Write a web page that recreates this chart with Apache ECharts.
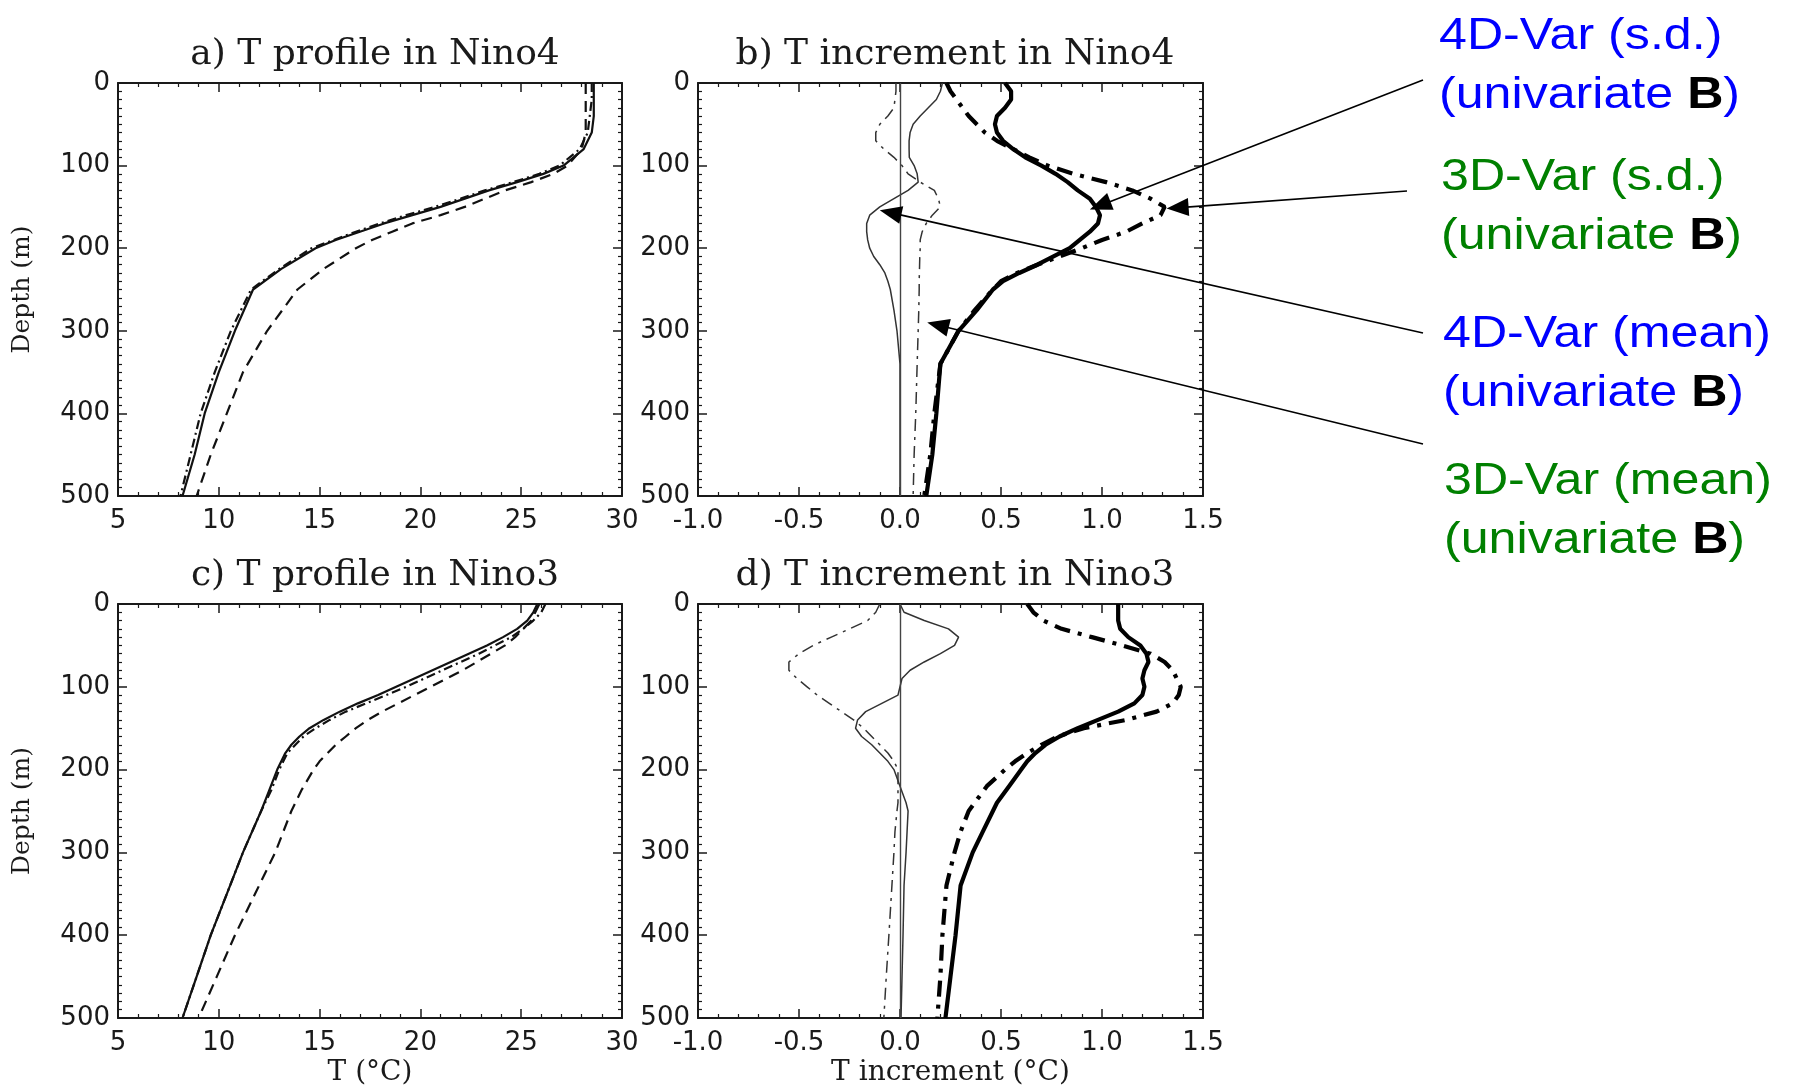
<!DOCTYPE html>
<html>
<head>
<meta charset="utf-8">
<script src="https://cdn.jsdelivr.net/npm/echarts@6/dist/echarts.min.js"></script>
<style>
html,body{margin:0;padding:0;background:#ffffff;}
#c{width:1793px;height:1088px;}
</style>
</head>
<body>
<div id="c"></div>
<script>
// ---------------- DATA ----------------
// Axis definitions / tick labels
const depthTicks = [0, 100, 200, 300, 400, 500];
const profileTicks = [5, 10, 15, 20, 25, 30];
const incrementTicks = [-1.0, -0.5, 0.0, 0.5, 1.0, 1.5];

// a) T profile in Nino4 (deg C)
const depthNino4Profile = [0,20,40,60,80,100,110,120,130,140,150,160,170,180,190,200,225,250,300,350,400,450,500];
const t4dNino4  = [28.6,28.6,28.6,28.5,28.1,27.1,26.1,24.8,23.4,22.2,21.0,19.6,18.2,17.0,15.8,14.8,13.1,11.7,10.8,10.0,9.3,8.8,8.2];
const t3dNino4  = [28.5,28.5,28.4,28.3,27.9,26.9,25.9,24.6,23.2,22.0,20.7,19.3,18.0,16.8,15.7,14.6,13.0,11.6,10.6,9.8,9.1,8.6,8.1];
const tCtlNino4 = [28.2,28.2,28.2,28.2,28.0,27.3,26.6,25.5,24.2,23.2,22.2,21.0,19.6,18.6,17.6,16.8,15.2,13.9,12.4,11.2,10.4,9.6,8.9];

// b) T increment in Nino4 (deg C)
const depthNino4Inc = [0,10,20,30,40,50,60,70,80,90,100,110,120,130,140,150,160,170,180,190,200,210,220,230,240,250,275,300,340,400,450,500];
const sd4dNino4   = [0.52,0.55,0.55,0.52,0.48,0.47,0.48,0.51,0.56,0.62,0.70,0.77,0.83,0.88,0.94,0.97,0.99,0.98,0.94,0.89,0.84,0.76,0.68,0.59,0.51,0.46,0.38,0.29,0.20,0.18,0.16,0.13];
const sd3dNino4   = [0.23,0.25,0.28,0.31,0.34,0.38,0.42,0.48,0.56,0.64,0.73,0.86,1.02,1.15,1.24,1.31,1.29,1.20,1.12,1.00,0.90,0.79,0.68,0.58,0.50,0.46,0.37,0.29,0.20,0.17,0.15,0.12];
const mean4dNino4 = [0.21,0.20,0.18,0.14,0.10,0.065,0.05,0.045,0.045,0.046,0.07,0.085,0.09,0.04,-0.03,-0.10,-0.15,-0.165,-0.165,-0.16,-0.15,-0.13,-0.10,-0.075,-0.06,-0.048,-0.03,-0.015,0.0,0.0,0.0,0.0];
const mean3dNino4 = [-0.02,-0.02,-0.025,-0.03,-0.06,-0.10,-0.12,-0.12,-0.08,-0.03,0.01,0.04,0.10,0.17,0.19,0.20,0.16,0.13,0.11,0.10,0.10,0.098,0.097,0.096,0.095,0.095,0.093,0.09,0.085,0.078,0.07,0.065];

// c) T profile in Nino3 (deg C)
const depthNino3Profile = [0,10,20,30,40,50,60,70,80,90,100,110,120,130,140,150,160,170,180,190,200,225,250,300,350,400,450,500];
const t4dNino3  = [25.8,25.6,25.3,24.8,24.1,23.3,22.4,21.5,20.6,19.7,18.8,17.9,16.9,16.0,15.2,14.5,14.0,13.6,13.3,13.1,12.9,12.5,12.1,11.2,10.4,9.6,8.9,8.2];
const t3dNino3  = [26.2,26.0,25.6,25.1,24.5,23.7,22.9,22.0,21.1,20.2,19.3,18.3,17.3,16.3,15.5,14.8,14.2,13.8,13.4,13.2,13.0,12.6,12.1,11.2,10.4,9.6,8.9,8.2];
const tCtlNino3 = [25.9,25.7,25.5,25.1,24.7,24.2,23.5,22.8,22.1,21.3,20.5,19.7,18.9,18.1,17.4,16.8,16.3,15.8,15.4,15.0,14.7,14.1,13.6,12.8,11.8,10.8,9.9,9.0];

// d) T increment in Nino3 (deg C)
const depthNino3Inc = [0,10,20,30,40,50,60,70,80,90,100,110,120,130,140,150,160,170,180,190,200,220,240,250,275,300,340,400,450,500];
const sd4dNino3   = [1.08,1.08,1.08,1.09,1.13,1.19,1.22,1.23,1.21,1.20,1.21,1.20,1.16,1.08,0.98,0.88,0.79,0.72,0.67,0.63,0.60,0.54,0.48,0.46,0.41,0.36,0.30,0.275,0.25,0.225];
const sd3dNino3   = [0.63,0.66,0.71,0.80,0.95,1.10,1.24,1.31,1.35,1.37,1.39,1.38,1.35,1.27,1.12,0.91,0.78,0.70,0.63,0.57,0.52,0.43,0.37,0.34,0.30,0.27,0.23,0.21,0.20,0.185];
const mean4dNino3 = [0.0,0.02,0.12,0.24,0.29,0.27,0.20,0.12,0.05,0.01,0.0,-0.01,-0.09,-0.17,-0.21,-0.22,-0.19,-0.14,-0.10,-0.06,-0.03,0.0,0.03,0.04,0.035,0.03,0.02,0.015,0.01,0.005];
const mean3dNino3 = [-0.10,-0.12,-0.16,-0.25,-0.34,-0.43,-0.50,-0.55,-0.55,-0.51,-0.46,-0.41,-0.35,-0.29,-0.23,-0.18,-0.14,-0.10,-0.06,-0.03,-0.01,-0.01,-0.01,-0.015,-0.025,-0.03,-0.04,-0.055,-0.068,-0.08];

// Annotation targets in panel b (increment, depth)
const arrowTargets = [[0.94, 153], [1.32, 152], [-0.10, 154], [0.135, 290]];
const annotationLabels = [
  {first: '4D-Var (s.d.)',  color: '#0000ff'},
  {first: '3D-Var (s.d.)',  color: '#008000'},
  {first: '4D-Var (mean)', color: '#0000ff'},
  {first: '3D-Var (mean)', color: '#008000'}
];

// ---------------- LAYOUT / STYLE ----------------
const INK = '#1a1a1a';
const grids = [
  {left: 118, top: 83,  width: 504, height: 413},
  {left: 698, top: 83,  width: 505, height: 413},
  {left: 118, top: 604, width: 504, height: 414},
  {left: 698, top: 604, width: 505, height: 414}
];
const tickFont = {fontFamily: 'DejaVu Sans', fontSize: 26, color: INK};
const serifYName = {fontFamily: 'DejaVu Serif', fontSize: 25, color: INK};
const serifXName = {fontFamily: 'DejaVu Serif', fontSize: 28, color: INK};

function axisCommon(gi) {
  return {
    type: 'value', gridIndex: gi,
    axisLine: {show: true, onZero: false, lineStyle: {color: INK, width: 2}},
    axisTick: {show: true, inside: true, length: 9, lineStyle: {color: INK, width: 1.5}},
    minorTick: {show: true, length: 4, lineStyle: {color: INK, width: 1.2}},
    splitLine: {show: false}, minorSplitLine: {show: false}
  };
}
function makeX(gi, ticks, fmt, name) {
  const min = ticks[0], max = ticks[ticks.length - 1], interval = ticks[1] - ticks[0];
  const base = axisCommon(gi);
  base.minorTick.splitNumber = 5;
  const bottom = Object.assign({}, base, {
    position: 'bottom', min, max, interval,
    axisLabel: Object.assign({show: true, margin: 12, formatter: fmt}, tickFont)
  });
  if (name) {
    bottom.name = name; bottom.nameLocation = 'middle'; bottom.nameGap = 41;
    bottom.nameTextStyle = serifXName;
  }
  const top = Object.assign({}, axisCommon(gi), {position: 'top', min, max, interval, axisLabel: {show: false}});
  top.minorTick.splitNumber = 5;
  return [bottom, top];
}
function makeY(gi, name) {
  const min = depthTicks[0], max = depthTicks[depthTicks.length - 1], interval = depthTicks[1] - depthTicks[0];
  const base = axisCommon(gi);
  base.minorTick.splitNumber = 10;
  const left = Object.assign({}, base, {
    position: 'left', inverse: true, min, max, interval,
    axisLabel: Object.assign({show: true, margin: 8}, tickFont)
  });
  if (name) {
    left.name = name; left.nameLocation = 'middle'; left.nameGap = 83;
    left.nameTextStyle = serifYName;
  }
  const right = Object.assign({}, axisCommon(gi), {position: 'right', inverse: true, min, max, interval, axisLabel: {show: false}});
  right.minorTick.splitNumber = 10;
  return [left, right];
}

const fmtInt = v => String(v);
const fmt1 = v => v.toFixed(1);

const xAxes = [].concat(
  makeX(0, profileTicks, fmtInt, null),
  makeX(1, incrementTicks, fmt1, null),
  makeX(2, profileTicks, fmtInt, 'T (°C)'),
  makeX(3, incrementTicks, fmt1, 'T increment (°C)')
);
const yAxes = [].concat(makeY(0, 'Depth (m)'), makeY(1, null), makeY(2, 'Depth (m)'), makeY(3, null));

const SOLID = {color: '#111', width: 2.2, type: 'solid'};
const DASHDOT = {color: '#111', width: 2.2, type: [9, 4, 2, 4]};
const DASHED = {color: '#111', width: 2.2, type: [11, 7]};
const THICK_SOLID = {color: '#000', width: 4.2, type: 'solid'};
const THICK_DASHDOT = {color: '#000', width: 4.2, type: [16, 8, 4, 8]};
const THIN_SOLID = {color: '#333', width: 1.5, type: 'solid'};
const THIN_DASHDOT = {color: '#333', width: 1.5, type: [12, 6, 3, 6]};

function line(gi, name, xs, ds, style, extra) {
  return Object.assign({
    type: 'line', name, xAxisIndex: 2 * gi, yAxisIndex: 2 * gi,
    data: xs.map((v, i) => [v, ds[i]]),
    showSymbol: false, symbol: 'none', smooth: false, silent: true,
    lineStyle: style, animation: false
  }, extra || {});
}
const zeroLine = {
  silent: true, symbol: ['none', 'none'], label: {show: false},
  lineStyle: {color: '#444', width: 1.4, type: 'solid'},
  data: [{xAxis: 0}]
};

const series = [
  line(0, '4D-Var', t4dNino4, depthNino4Profile, SOLID),
  line(0, '3D-Var', t3dNino4, depthNino4Profile, DASHDOT),
  line(0, 'Control', tCtlNino4, depthNino4Profile, DASHED),
  line(1, '4D-Var (mean)', mean4dNino4, depthNino4Inc, THIN_SOLID, {markLine: zeroLine}),
  line(1, '3D-Var (mean)', mean3dNino4, depthNino4Inc, THIN_DASHDOT),
  line(1, '4D-Var (s.d.)', sd4dNino4, depthNino4Inc, THICK_SOLID),
  line(1, '3D-Var (s.d.)', sd3dNino4, depthNino4Inc, THICK_DASHDOT),
  line(2, '4D-Var', t4dNino3, depthNino3Profile, SOLID),
  line(2, '3D-Var', t3dNino3, depthNino3Profile, DASHDOT),
  line(2, 'Control', tCtlNino3, depthNino3Profile, DASHED),
  line(3, '4D-Var (mean)', mean4dNino3, depthNino3Inc, THIN_SOLID, {markLine: zeroLine}),
  line(3, '3D-Var (mean)', mean3dNino3, depthNino3Inc, THIN_DASHDOT),
  line(3, '4D-Var (s.d.)', sd4dNino3, depthNino3Inc, THICK_SOLID),
  line(3, '3D-Var (s.d.)', sd3dNino3, depthNino3Inc, THICK_DASHDOT)
];

const titleStyle = {fontFamily: 'DejaVu Serif', fontSize: 36, fontWeight: 'normal', color: INK};
const titles = [
  {text: 'a) T profile in Nino4', left: 370, top: 32},
  {text: 'b) T increment in Nino4', left: 950, top: 32},
  {text: 'c) T profile in Nino3', left: 370, top: 553},
  {text: 'd) T increment in Nino3', left: 950, top: 553}
].map(t => Object.assign(t, {textAlign: 'center', textStyle: titleStyle}));

const chart = echarts.init(document.getElementById('c'), null, {renderer: 'canvas'});
chart.setOption({
  animation: false,
  backgroundColor: '#ffffff',
  title: titles,
  grid: grids,
  xAxis: xAxes,
  yAxis: yAxes,
  series: series
});

// ---------------- ANNOTATIONS ----------------
const labelTops = [7, 148, 305, 452];
const labelLefts = [1439, 1441, 1443, 1444];
const arrowTails = [[1423, 80], [1407, 191], [1423, 333], [1423, 444]];
const graphics = [];
annotationLabels.forEach((lab, i) => {
  graphics.push({
    type: 'text', x: labelLefts[i], y: labelTops[i], scaleX: 1.14, scaleY: 1, silent: true,
    style: {
      x: 0, y: 0,
      text: '{m|' + lab.first + '}\n{m|(univariate }{b|B}{m|)}',
      verticalAlign: 'top', textVerticalAlign: 'top',
      rich: {
        m: {fill: lab.color, color: lab.color, fontSize: 44, fontFamily: 'Liberation Sans', lineHeight: 59},
        b: {fill: '#000', color: '#000', fontSize: 44, fontWeight: 'bold', fontFamily: 'Liberation Sans', lineHeight: 59}
      }
    }
  });
});
arrowTargets.forEach((t, i) => {
  const tip = chart.convertToPixel({gridIndex: 1}, t);
  const tail = arrowTails[i];
  const dx = tip[0] - tail[0], dy = tip[1] - tail[1];
  const len = Math.sqrt(dx * dx + dy * dy);
  const ux = dx / len, uy = dy / len, nx = -uy, ny = ux;
  const L = 22, W = 9;
  const bx = tip[0] - ux * L, by = tip[1] - uy * L;
  graphics.push({
    type: 'line', silent: true,
    shape: {x1: tail[0], y1: tail[1], x2: bx + ux * 2, y2: by + uy * 2},
    style: {stroke: '#000', lineWidth: 1.6}, z: 100
  });
  graphics.push({
    type: 'polygon', silent: true,
    shape: {points: [[tip[0], tip[1]], [bx + nx * W, by + ny * W], [bx - nx * W, by - ny * W]]},
    style: {fill: '#000'}, z: 100
  });
});
chart.setOption({graphic: graphics});
</script>
</body>
</html>
